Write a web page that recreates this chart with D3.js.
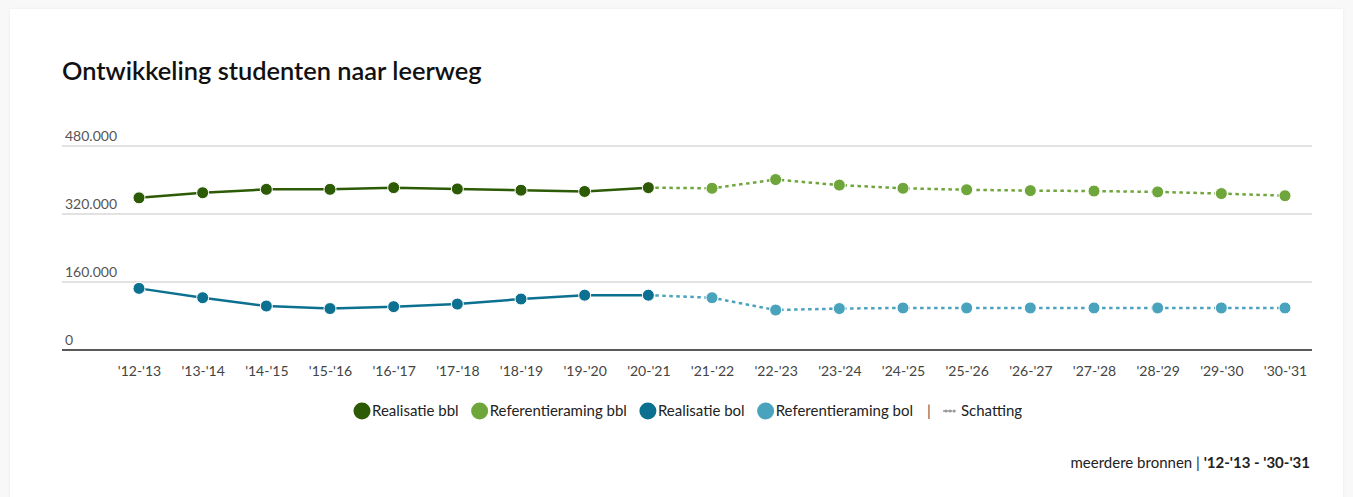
<!DOCTYPE html>
<html>
<head>
<meta charset="utf-8">
<script src="https://cdn.jsdelivr.net/npm/d3@7"></script>
<style>
    body { margin: 0; background: #f8f8f8; font-family: "Source Sans Pro", Lato, "Noto Sans", sans-serif; }
    #card { position: absolute; left: 10px; top: 9px; width: 1333px; height: 500px; background: #fff;
            box-shadow: 0 0 3px rgba(0,0,0,0.06); }
    svg { position: absolute; left: 0; top: 0; }
</style>
</head>
<body>
<div id="card"></div>
<svg id="chart" width="1353" height="497"></svg>
<script>
// schooljaren
var years = ["'12-'13", "'13-'14", "'14-'15", "'15-'16", "'16-'17", "'17-'18", "'18-'19", "'19-'20", "'20-'21",
    "'21-'22", "'22-'23", "'23-'24", "'24-'25", "'25-'26", "'26-'27", "'27-'28", "'28-'29", "'29-'30", "'30-'31"];

// realisatie (t/m '20-'21)
var realBbl = [358000, 370000, 378000, 378000, 382000, 379000, 376000, 373000, 382000];
var realBol = [145000, 123000, 103500, 97500, 102000, 108000, 120000, 129000, 129000];

// referentieraming ('21-'22 t/m '30-'31)
var refBbl = [380500, 401000, 388000, 380500, 377000, 375000, 374000, 372000, 368000, 363000];
var refBol = [123000, 94000, 97500, 99000, 99000, 99000, 99000, 99000, 99000, 99000];

var yTicks = [0, 160000, 320000, 480000];

var colors = {
    realBbl: "#2d5a05",
    refBbl: "#6fa63c",
    realBol: "#0c7190",
    refBol: "#4aa3bd"
};

var svg = d3.select("#chart");

var x = d3.scalePoint().domain(years).range([139, 1285]);
var y = d3.scaleLinear().domain([0, 480000]).range([350, 146]);

var fmt = function (v) {
    return d3.format(",")(v).replace(/,/g, ".");
};

// titel
svg.append("text")
    .attr("x", 62).attr("y", 80)
    .style("font-size", "25.4px").style("font-weight", 600).style("fill", "#111")
    .text("Ontwikkeling studenten naar leerweg");

// grid + y labels
var grid = svg.append("g");
grid.selectAll("line")
    .data(yTicks.filter(function (d) { return d > 0; }))
    .enter().append("line")
    .attr("x1", 62).attr("x2", 1312)
    .attr("y1", function (d) { return y(d); })
    .attr("y2", function (d) { return y(d); })
    .style("stroke", "#d9d9d9").style("stroke-width", 1.5);

grid.selectAll("text")
    .data(yTicks)
    .enter().append("text")
    .attr("x", 65)
    .attr("y", function (d) { return y(d) - 5; })
    .style("font-size", "14px").style("fill", "#555")
    .text(function (d) { return fmt(d); });

// x-as
svg.append("line")
    .attr("x1", 62).attr("x2", 1312)
    .attr("y1", y(0)).attr("y2", y(0))
    .style("stroke", "#222").style("stroke-width", 1.5);

var xAxis = d3.axisBottom(x).tickSize(0).tickPadding(16);
var gx = svg.append("g").attr("transform", "translate(0," + y(0) + ")").call(xAxis);
gx.select(".domain").remove();
gx.selectAll("text").style("font-size", "14px").style("fill", "#444")
    .style("font-family", "\"Source Sans Pro\", Lato, \"Noto Sans\", sans-serif");

var line = d3.line()
    .x(function (d) { return x(d.year); })
    .y(function (d) { return y(d.value); });

function toPoints(vals, offset) {
    return vals.map(function (v, i) { return {year: years[i + offset], value: v}; });
}

function drawSeries(real, ref, cReal, cRef) {
    var realPts = toPoints(real, 0);
    var refPts = toPoints(ref, real.length);
    var joinPts = [realPts[realPts.length - 1]].concat(refPts);

    svg.append("path")
        .datum(joinPts)
        .attr("d", line)
        .style("fill", "none").style("stroke", cRef)
        .style("stroke-width", 2.5).style("stroke-dasharray", "3.5,3.5");

    svg.append("path")
        .datum(realPts)
        .attr("d", line)
        .style("fill", "none").style("stroke", cReal).style("stroke-width", 2.5);

    svg.append("g").selectAll("circle")
        .data(refPts)
        .enter().append("circle")
        .attr("cx", function (d) { return x(d.year); })
        .attr("cy", function (d) { return y(d.value); })
        .attr("r", 6)
        .style("fill", cRef).style("stroke", "#fff").style("stroke-width", 1);

    svg.append("g").selectAll("circle")
        .data(realPts)
        .enter().append("circle")
        .attr("cx", function (d) { return x(d.year); })
        .attr("cy", function (d) { return y(d.value); })
        .attr("r", 6)
        .style("fill", cReal).style("stroke", "#fff").style("stroke-width", 1);
}

drawSeries(realBbl, refBbl, colors.realBbl, colors.refBbl);
drawSeries(realBol, refBol, colors.realBol, colors.refBol);

// legenda
var legendItems = [
    {label: "Realisatie bbl", color: colors.realBbl},
    {label: "Referentieraming bbl", color: colors.refBbl},
    {label: "Realisatie bol", color: colors.realBol},
    {label: "Referentieraming bol", color: colors.refBol}
];

var legend = svg.append("g").attr("transform", "translate(0,411)");
var lx = 353;
legendItems.forEach(function (d) {
    legend.append("circle").attr("cx", lx + 9).attr("cy", 0).attr("r", 8.5).style("fill", d.color);
    var t = legend.append("text").attr("x", lx + 19).attr("y", 5)
        .style("font-size", "15px").style("fill", "#222").text(d.label);
    lx += 19 + t.node().getComputedTextLength() + 12;
});
legend.append("text").attr("x", lx + 2).attr("y", 5)
    .style("font-size", "15px").style("fill", "#555").text("|");
lx += 18;
legend.append("line").attr("x1", lx).attr("x2", lx + 14).attr("y1", 0).attr("y2", 0)
    .style("stroke", "#999").style("stroke-width", 1.5).style("stroke-dasharray", "2,1.5");
legend.selectAll("circle.sd")
    .data([lx + 3, lx + 7, lx + 11])
    .enter().append("circle").attr("class", "sd")
    .attr("cx", function (d) { return d; }).attr("cy", 0).attr("r", 1.6)
    .style("fill", "#999");
legend.append("text").attr("x", lx + 18).attr("y", 5)
    .style("font-size", "15px").style("fill", "#222").text("Schatting");

// bron
var src = svg.append("text")
    .attr("x", 1310).attr("y", 468)
    .attr("text-anchor", "end")
    .style("font-size", "15px").style("fill", "#222");
src.append("tspan").text("meerdere bronnen | ");
src.append("tspan").style("font-weight", 700).text("'12-'13 - '30-'31");
</script>
</body>
</html>
